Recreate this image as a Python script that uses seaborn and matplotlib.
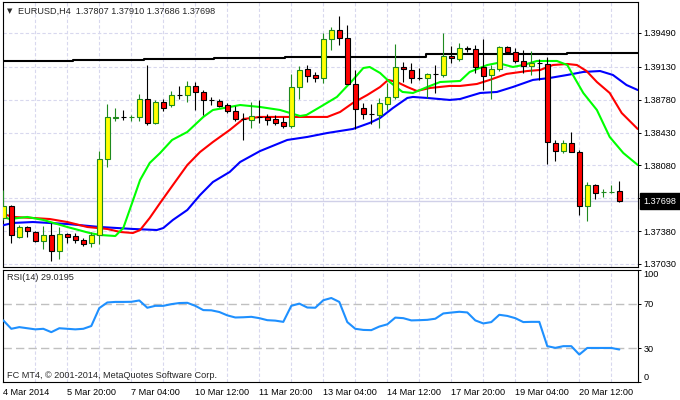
import numpy as np
import pandas as pd
import matplotlib
matplotlib.use("Agg")
import matplotlib.pyplot as plt
import matplotlib.transforms as mtransforms
import seaborn as sns

# EURUSD H4 candles, one entry per bar
opens = [1.37520, 1.37648, 1.37318, 1.37424, 1.37371, 1.37275, 1.37339, 1.37168, 1.37350, 1.37328,
         1.37286, 1.37254, 1.37339, 1.38148, 1.38590, 1.38598, 1.38594, 1.38596, 1.38787, 1.38532,
         1.38755, 1.38723, 1.38832, 1.38830, 1.38926, 1.38862, 1.38779, 1.38766, 1.38723, 1.38659,
         1.38576, 1.38564, 1.38598, 1.38596, 1.38574, 1.38542, 1.38500, 1.38915, 1.39107, 1.39043,
         1.39011, 1.39426, 1.39522, 1.39437, 1.38947, 1.38691, 1.38630, 1.38617, 1.38734, 1.38809,
         1.39128, 1.39096, 1.39013, 1.39011, 1.39056, 1.39043, 1.39245, 1.39213, 1.39330, 1.39320,
         1.39128, 1.39043, 1.39107, 1.39341, 1.39288, 1.39192, 1.39139, 1.39173, 1.39160, 1.38319,
         1.38233, 1.38319, 1.38223, 1.37648, 1.37871, 1.37795, 1.37795, 1.37807]
highs = [1.37818, 1.37658, 1.37445, 1.37435, 1.37380, 1.37435, 1.37467, 1.37424, 1.37360, 1.37360,
         1.37307, 1.37371, 1.38233, 1.38734, 1.38691, 1.38670, 1.38617, 1.38841, 1.39149, 1.38777,
         1.38787, 1.38872, 1.38926, 1.38979, 1.38968, 1.38883, 1.38809, 1.38787, 1.38745, 1.38713,
         1.38638, 1.38755, 1.38777, 1.38628, 1.38617, 1.38596, 1.39054, 1.39139, 1.39149, 1.39075,
         1.39490, 1.39554, 1.39671, 1.39575, 1.39096, 1.38745, 1.38734, 1.38798, 1.38958, 1.39373,
         1.39181, 1.39171, 1.39117, 1.39064, 1.39149, 1.39490, 1.39352, 1.39384, 1.39352, 1.39362,
         1.39426, 1.39149, 1.39352, 1.39352, 1.39330, 1.39309, 1.39298, 1.39213, 1.39235, 1.38351,
         1.38351, 1.38436, 1.38244, 1.37903, 1.37880, 1.37829, 1.37871, 1.37910]
lows = [1.37499, 1.37254, 1.37307, 1.37318, 1.37264, 1.37190, 1.37062, 1.37083, 1.37254, 1.37254,
        1.37222, 1.37211, 1.37243, 1.38063, 1.38553, 1.38564, 1.38553, 1.38553, 1.38510, 1.38521,
        1.38659, 1.38702, 1.38787, 1.38755, 1.38670, 1.38617, 1.38723, 1.38702, 1.38638, 1.38553,
        1.38351, 1.38478, 1.38532, 1.38510, 1.38510, 1.38478, 1.38478, 1.38787, 1.38968, 1.38968,
        1.38958, 1.39309, 1.39362, 1.38947, 1.38468, 1.38574, 1.38521, 1.38478, 1.38670, 1.38787,
        1.38968, 1.38958, 1.38990, 1.38798, 1.38851, 1.39022, 1.39171, 1.39192, 1.39288, 1.39064,
        1.38883, 1.38787, 1.39085, 1.39277, 1.39171, 1.39064, 1.39043, 1.38990, 1.38095, 1.38127,
        1.38212, 1.38223, 1.37552, 1.37488, 1.37722, 1.37744, 1.37786, 1.37686]
closes = [1.37648, 1.37339, 1.37424, 1.37381, 1.37275, 1.37339, 1.37168, 1.37350, 1.37318, 1.37286,
          1.37243, 1.37339, 1.38148, 1.38596, 1.38596, 1.38594, 1.38598, 1.38787, 1.38532, 1.38755,
          1.38691, 1.38830, 1.38828, 1.38926, 1.38862, 1.38777, 1.38775, 1.38713, 1.38659, 1.38574,
          1.38572, 1.38606, 1.38594, 1.38564, 1.38532, 1.38500, 1.38915, 1.39096, 1.39032, 1.39011,
          1.39426, 1.39522, 1.39437, 1.38947, 1.38681, 1.38628, 1.38626, 1.38745, 1.38809, 1.39128,
          1.39107, 1.39011, 1.39009, 1.39054, 1.39052, 1.39245, 1.39224, 1.39330, 1.39320, 1.39128,
          1.39032, 1.39107, 1.39341, 1.39288, 1.39192, 1.39139, 1.39171, 1.39169, 1.38329, 1.38233,
          1.38319, 1.38223, 1.37648, 1.37871, 1.37786, 1.37799, 1.37799, 1.37698]

# alligator-style moving averages (bar position, price)
lips_bar = [-0.4, 0.8, 3.0, 5.0, 8.0, 10.8, 12.1, 14.0, 15.0, 16.1, 17.1, 18.3, 19.6, 21.1, 23.0,
            25.0, 26.2, 28.3, 29.6, 32.1, 34.6, 37.1, 37.9, 39.6, 41.7, 43.7, 45.0, 45.8, 47.1, 48.3,
            49.9, 51.2, 53.0, 54.6, 57.1, 58.3, 60.5, 61.8, 63.7, 65.0, 66.7, 69.2, 70.5, 71.2, 72.5,
            74.2, 75.8, 77.5, 79.3]
lips_val = [1.37541, 1.37509, 1.37531, 1.37499, 1.37424, 1.37360, 1.37339, 1.37328, 1.37413, 1.37680,
            1.37925, 1.38106, 1.38212, 1.38351, 1.38436, 1.38596, 1.38670, 1.38702, 1.38723, 1.38702,
            1.38670, 1.38606, 1.38617, 1.38702, 1.38809, 1.38990, 1.39117, 1.39128, 1.39064, 1.38968,
            1.38862, 1.38851, 1.38915, 1.38968, 1.38979, 1.39075, 1.39149, 1.39171, 1.39128, 1.39149,
            1.39192, 1.39192, 1.39149, 1.39043, 1.38851, 1.38670, 1.38383, 1.38212, 1.38085]
teeth_bar = [-0.4, 1.2, 3.7, 5.8, 8.0, 10.5, 13.0, 14.6, 16.2, 17.1, 18.3, 19.6, 21.2, 23.0, 24.6,
             26.2, 28.3, 30.0, 32.1, 35.5, 38.0, 40.5, 42.1, 43.7, 45.5, 47.1, 48.1, 49.2, 50.5, 51.7,
             53.3, 55.8, 57.1, 59.2, 60.8, 62.9, 65.5, 67.1, 68.7, 70.5, 71.7, 72.9, 74.2, 75.8, 77.3,
             79.3]
teeth_val = [1.37573, 1.37531, 1.37520, 1.37509, 1.37477, 1.37424, 1.37403, 1.37371, 1.37360, 1.37392,
             1.37520, 1.37680, 1.37871, 1.38084, 1.38223, 1.38329, 1.38457, 1.38574, 1.38596, 1.38596,
             1.38596, 1.38596, 1.38649, 1.38745, 1.38830, 1.38915, 1.38990, 1.38968, 1.38915, 1.38872,
             1.38904, 1.38926, 1.38926, 1.38947, 1.38990, 1.39054, 1.39085, 1.39096, 1.39149, 1.39160,
             1.39149, 1.39085, 1.38968, 1.38851, 1.38638, 1.38468]
jaw_bar = [-0.4, 1.2, 3.7, 8.0, 12.1, 16.2, 19.2, 20.0, 21.2, 23.0, 24.6, 26.2, 28.3, 29.6, 32.1,
           35.5, 38.0, 40.5, 43.7, 45.8, 47.1, 48.7, 50.5, 51.2, 53.0, 55.8, 57.1, 59.6, 61.7, 63.7,
           66.2, 68.3, 70.5, 72.5, 74.6, 76.2, 77.9, 79.3]
jaw_val = [1.37435, 1.37467, 1.37477, 1.37456, 1.37424, 1.37403, 1.37392, 1.37413, 1.37499, 1.37605,
           1.37765, 1.37903, 1.38010, 1.38116, 1.38233, 1.38351, 1.38383, 1.38425, 1.38468, 1.38532,
           1.38585, 1.38691, 1.38798, 1.38809, 1.38798, 1.38777, 1.38787, 1.38851, 1.38862, 1.38915,
           1.38990, 1.39011, 1.39043, 1.39075, 1.39085, 1.39043, 1.38936, 1.38883]
# long MA from a higher timeframe, drawn as steps
slow_bar = [-0.1, 8.7, 17.6, 26.3, 35.2, 52.8, 70.5, 79.3]
slow_val = [1.39192, 1.39203, 1.39210, 1.39227, 1.39238, 1.39261, 1.39282, 1.39282]

rsi = [55.0, 47.5, 49.0, 48.0, 47.0, 47.5, 44.5, 48.0, 47.5, 47.0,
       47.5, 50.0, 66.0, 71.0, 71.5, 71.5, 71.6, 72.8, 66.3, 68.0,
       68.0, 69.5, 70.5, 70.7, 68.0, 64.2, 64.0, 62.5, 59.5, 57.6,
       57.8, 58.2, 57.0, 55.2, 54.8, 53.7, 68.0, 70.0, 66.5, 66.3,
       73.0, 75.0, 71.5, 53.5, 47.5, 46.5, 46.3, 49.5, 51.5, 57.5,
       57.0, 55.0, 55.2, 55.5, 56.5, 61.2, 62.0, 62.7, 62.1, 55.0,
       52.3, 53.5, 60.0, 59.0, 57.0, 53.5, 53.7, 53.7, 32.0, 30.5,
       32.0, 32.0, 24.5, 30.4, 30.4, 30.4, 30.4, 29.0195]

label_bars = [0, 8, 16, 24, 32, 40, 48, 56, 64, 72]
time_labels = ['4 Mar 2014', '5 Mar 20:00', '7 Mar 04:00', '10 Mar 12:00', '11 Mar 20:00',
               '13 Mar 04:00', '14 Mar 12:00', '17 Mar 20:00', '19 Mar 04:00', '20 Mar 12:00']
grid_bars = list(range(4, 80, 4))
price_levels = [1.37030, 1.37380, 1.37730, 1.38080, 1.38430, 1.38780, 1.39130, 1.39490]
rsi_levels = [0, 30, 70, 100]

sns.set_style('white')
plt.rcParams['font.family'] = ['Liberation Sans', 'DejaVu Sans']
plt.rcParams['font.size'] = 6.6

W, H = 680, 400
fig = plt.figure(figsize=(W / 100, H / 100), dpi=100)
ax = fig.add_axes([2.5 / W, 1 - 267 / H, 635 / W, 265 / H])
ax2 = fig.add_axes([2.5 / W, 1 - 382 / H, 635 / W, 112 / H])

grid_kw = dict(color='#d8d8ee', linestyle=(0, (3, 2)), linewidth=0.8)

candles = pd.DataFrame({'open': opens, 'high': highs, 'low': lows, 'close': closes})
candles['bar'] = np.arange(len(candles))
bull = candles['close'] >= candles['open']
edge = np.where(bull, '#1f8a1f', 'black')
face = np.where(bull, '#ffff00', '#ff0000')

# moving averages
sns.lineplot(x=slow_bar, y=slow_val, ax=ax, color='black', linewidth=1.5, drawstyle='steps-post', zorder=3)
sns.lineplot(x=jaw_bar, y=jaw_val, ax=ax, color='#0000ff', linewidth=1.5, zorder=3)
sns.lineplot(x=teeth_bar, y=teeth_val, ax=ax, color='#ff0000', linewidth=1.5, zorder=3)
sns.lineplot(x=lips_bar, y=lips_val, ax=ax, color='#00ff00', linewidth=1.5, zorder=3)

# candles
ax.vlines(candles['bar'], candles['low'], candles['high'], colors=edge, linewidth=0.8, zorder=4)
ax.bar(candles['bar'], candles['close'] - candles['open'], bottom=candles['open'], width=0.6,
       color=face, edgecolor=edge, linewidth=0.8, zorder=5)

ax.axhline(closes[-1], color='#d0d0e8', linewidth=1, zorder=1)

ax.set_xlim(-0.1, 79.275)
ax.set_ylim(1.36998, 1.39820)
ax.set_yticks(price_levels)
# the 1.37730 label sits under the current-price box, so leave it blank
ax.set_yticklabels(['' if abs(p - 1.37730) < 1e-6 else f'{p:.5f}' for p in price_levels])
ax.yaxis.tick_right()
ax.tick_params(axis='y', length=2.2, width=0.7, pad=2, colors='black', labelsize=6.6)
ax.set_xticks(label_bars)
ax.set_xticks(grid_bars, minor=True)
ax.tick_params(axis='x', which='both', length=0, labelbottom=False)
ax.grid(True, which='both', axis='x', **grid_kw)
ax.grid(True, which='major', axis='y', **grid_kw)
ax.set_axisbelow(True)
ax.set_xlabel('')
ax.set_ylabel('')

trans = mtransforms.blended_transform_factory(ax.transAxes, ax.transData)
ax.text(1 + 6 / 635, closes[-1], f'{closes[-1]:.5f}', transform=trans, color='white',
        ha='left', va='center', fontsize=6.6, zorder=10, clip_on=False,
        bbox=dict(boxstyle='square,pad=0.4', fc='black', ec='black'))

# RSI panel
sns.lineplot(x=candles['bar'], y=rsi, ax=ax2, color='#1e90ff', linewidth=1.5, zorder=3)
for lvl in (30, 70):
    ax2.axhline(lvl, color='#c0c0c0', linewidth=1, linestyle=(0, (6, 3)), zorder=2)
ax2.set_xlim(-0.1, 79.275)
ax2.set_ylim(0, 100)
ax2.set_yticks(rsi_levels)
ax2.set_yticklabels([str(v) for v in rsi_levels])
ax2.yaxis.tick_right()
ax2.tick_params(axis='y', length=2.2, width=0.7, pad=2, colors='black', labelsize=6.6)
for lab in ax2.get_yticklabels():
    if lab.get_text() == '100':
        lab.set_va('top')
    elif lab.get_text() == '0':
        lab.set_va('bottom')
ax2.set_xticks(label_bars)
ax2.set_xticklabels(time_labels, ha='left')
ax2.set_xticks(grid_bars, minor=True)
ax2.tick_params(axis='x', which='major', length=2.5, width=0.7, pad=1.5, colors='black', labelsize=6.6)
ax2.tick_params(axis='x', which='minor', length=0)
ax2.grid(True, which='both', axis='x', **grid_kw)
ax2.set_axisbelow(True)
ax2.set_xlabel('')
ax2.set_ylabel('')

for a in (ax, ax2):
    for s in a.spines.values():
        s.set_visible(True)
        s.set_color('black')
        s.set_linewidth(0.8)

fig.text(7 / W, 1 - 11 / H, '\u25bc', fontsize=5, va='center', ha='left', family='DejaVu Sans')
fig.text(18 / W, 1 - 11 / H,
         f'EURUSD,H4  {opens[-1]:.5f} {highs[-1]:.5f} {lows[-1]:.5f} {closes[-1]:.5f}',
         fontsize=6.6, va='center', ha='left')
fig.text(7 / W, 1 - 277 / H, f'RSI(14) {rsi[-1]:.4f}', fontsize=6.6, va='center', ha='left')
fig.text(7 / W, 1 - 375 / H, 'FC MT4, \u00a9 2001-2014, MetaQuotes Software Corp.',
         fontsize=6.6, va='center', ha='left')

fig.savefig('out.png', dpi=100)
